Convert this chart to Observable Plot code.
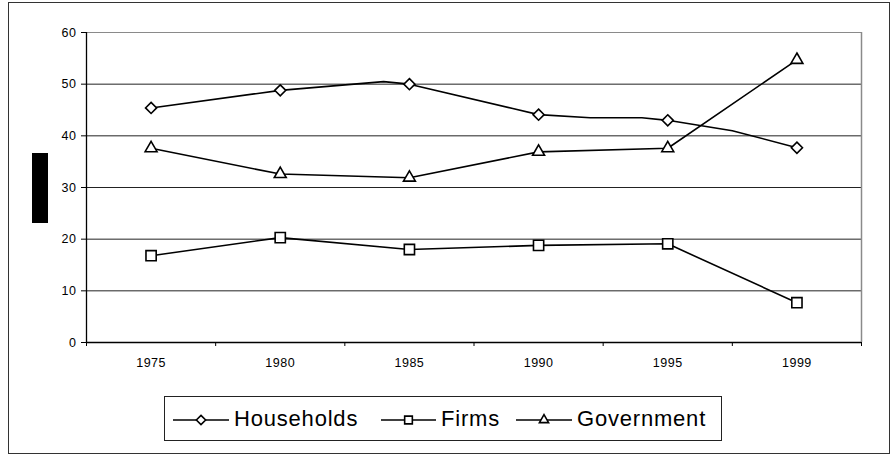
<!DOCTYPE html>
<html>
<head>
<meta charset="utf-8">
<script src="https://cdn.jsdelivr.net/npm/d3@7"></script>
<script src="https://cdn.jsdelivr.net/npm/@observablehq/plot@0.6"></script>
<style>
  html, body { margin: 0; padding: 0; background: #fff; }
  #wrap { position: relative; width: 891px; height: 455px; font-family: "Liberation Sans", Arial, sans-serif; }
  #frame { position: absolute; left: 8px; top: 2px; width: 882px; height: 452px; border: 1px solid #333; box-sizing: border-box; pointer-events: none; }
  #redact { position: absolute; left: 32px; top: 153px; width: 16px; height: 70px; background: #000; }
  #legend { position: absolute; left: 164px; top: 396px; width: 558px; height: 45px; border: 1px solid #222; box-sizing: border-box; background: #fff; }
  .item { position: absolute; top: 0; height: 43px; display: flex; align-items: center; }
  .item span { font-size: 22px; letter-spacing: 0.8px; color: #000; margin-left: 5px; line-height: 1; }
  .item svg { display: block; }
</style>
</head>
<body>
<div id="wrap">
  <div id="chart"></div>
  <div id="redact"></div>
  <div id="legend"></div>
  <div id="frame"></div>
</div>
<script>
const years = [1975, 1980, 1985, 1990, 1995, 1999];
const households = [45.4, 48.8, 50.0, 44.1, 43.0, 37.7];
const firms = [16.8, 20.3, 18.0, 18.8, 19.1, 7.7];
const government = [37.6, 32.6, 31.9, 36.9, 37.6, 54.7];
// Households line in the picture also passes through these unmarked years
const householdsTraceYears = [1975, 1980, 1984, 1985, 1989, 1990, 1992, 1994, 1995, 1997, 1999];
const householdsTrace = [45.4, 48.8, 50.5, 50.0, 45.3, 44.1, 43.5, 43.5, 43.0, 41.0, 37.7];
const seriesNames = ["Households", "Firms", "Government"];
const seriesSymbols = ["diamond2", "square2", "triangle2"];
const seriesRadius = [5, 6.5, 5.7];
const yTicks = [0, 10, 20, 30, 40, 50, 60];

// categories are evenly spaced: map a year to its category position
const idx = years.map((_, i) => i);
const pos = d3.scaleLinear().domain(years).range(idx);
const bounds = d3.range(years.length + 1).map(i => i - 0.5);

const seriesValues = [households, firms, government];
const points = [];
seriesNames.forEach((name, s) => {
  seriesValues[s].forEach((v, i) => points.push({series: name, i, value: v}));
});
const lines = [
  ...householdsTraceYears.map((y, k) => ({series: "Households", i: pos(y), value: householdsTrace[k]})),
  ...points.filter(d => d.series !== "Households")
];

const chart = Plot.plot({
  width: 891,
  height: 455,
  marginLeft: 86,
  marginRight: 30,
  marginTop: 32,
  marginBottom: 113,
  style: {fontFamily: "'Liberation Sans', Arial, sans-serif", background: "transparent"},
  x: {type: "linear", domain: [bounds[0], bounds[bounds.length - 1]]},
  y: {domain: [yTicks[0], yTicks[yTicks.length - 1]]},
  symbol: {type: "identity"},
  marks: [
    Plot.ruleY(yTicks, {stroke: d => d === yTicks[yTicks.length - 1] ? "#8a8a8a" : "#222", strokeWidth: 1}),
    Plot.ruleX([bounds[bounds.length - 1]], {stroke: "#8a8a8a", strokeWidth: 1.5}),
    Plot.ruleX([bounds[0]], {stroke: "#000", strokeWidth: 1.3}),
    Plot.ruleY([yTicks[0]], {stroke: "#000", strokeWidth: 1.3}),
    Plot.axisY({ticks: yTicks, tickSize: 5, tickPadding: 5, fontSize: 12.5, stroke: "#000", label: null, tickFormat: d => String(d)}),
    Plot.axisX({ticks: bounds, tickSize: 4, tickFormat: () => "", stroke: "#000", label: null}),
    Plot.axisX({ticks: idx, tickSize: 0, tickPadding: 16, fontSize: 12.5, tickFormat: i => String(years[i]), label: null}),
    Plot.line(lines, {x: "i", y: "value", z: "series", stroke: "#000", strokeWidth: 1.6}),
    ...seriesNames.map((name, s) => Plot.dot(points.filter(d => d.series === name), {
      x: "i", y: "value", symbol: () => seriesSymbols[s], r: seriesRadius[s],
      fill: "#fff", stroke: "#000", strokeWidth: 1.6
    }))
  ]
});
chart.querySelectorAll('g[aria-label="y-axis tick label"] text, g[aria-label="x-axis tick label"] text').forEach(t => t.setAttribute("letter-spacing", "0.5"));
document.getElementById("chart").appendChild(chart);

// legend
const legend = document.getElementById("legend");
const legendLefts = [8, 216, 351];
const lineWidths = [56, 55, 56];
const legendSymbols = [d3.symbolDiamond2, d3.symbolSquare2, d3.symbolTriangle2];
seriesNames.forEach((name, s) => {
  const item = document.createElement("div");
  item.className = "item";
  item.style.left = legendLefts[s] + "px";
  const w = lineWidths[s];
  const svg = d3.create("svg").attr("width", w).attr("height", 20);
  svg.append("line").attr("x1", 0).attr("x2", w).attr("y1", 11).attr("y2", 11).attr("stroke", "#000").attr("stroke-width", 1.6);
  svg.append("path")
    .attr("transform", `translate(${w / 2},11)`)
    .attr("d", d3.symbol(legendSymbols[s], [55, 75, 60][s])())
    .attr("fill", "#fff").attr("stroke", "#000").attr("stroke-width", 1.6);
  item.appendChild(svg.node());
  const label = document.createElement("span");
  label.textContent = name;
  item.appendChild(label);
  legend.appendChild(item);
});
</script>
</body>
</html>
